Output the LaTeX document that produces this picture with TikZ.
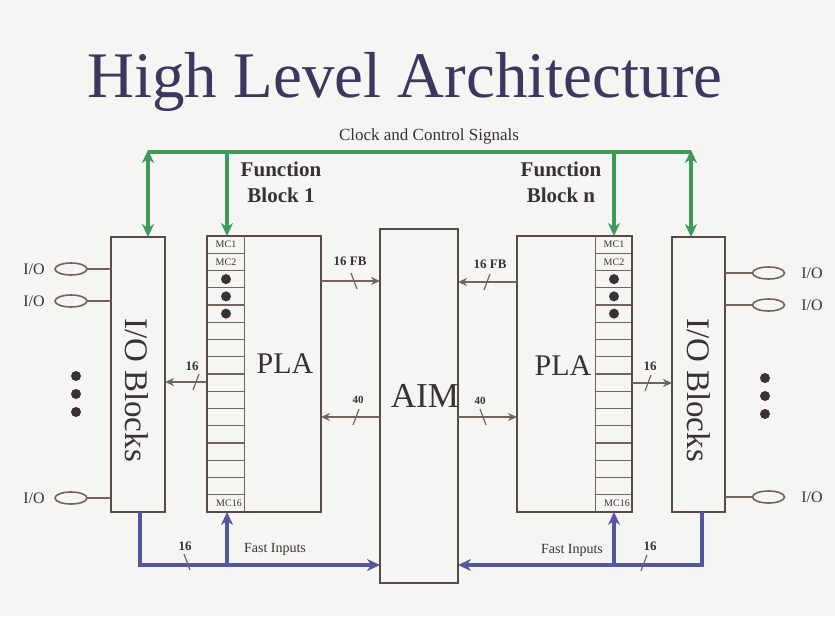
\documentclass[tikz,border=0pt]{standalone}
\usepackage{fontspec}
\setmainfont{Liberation Serif}
\usetikzlibrary{shapes,arrows.meta}
\definecolor{boxline}{HTML}{5A4A46}
\definecolor{wire}{HTML}{74625E}
\definecolor{clk}{HTML}{3E9A58}
\definecolor{fast}{HTML}{56569C}
\definecolor{titlecol}{HTML}{40355F}
\definecolor{txt}{HTML}{3A3232}
\definecolor{paper}{HTML}{F5F5F3}

\begin{document}
\begin{tikzpicture}[x=1pt,y=-1pt,>={Stealth[length=9pt,width=8pt]}]
    \tikzstyle{every node}=[inner sep=0pt,outer sep=0pt,text=txt]
    \tikzstyle{blk}=[draw=boxline,line width=2.6pt]
    \tikzstyle{mc}=[draw=wire,line width=1.1pt,minimum width=37,minimum height=17.25]
    \tikzstyle{mcl}=[font=\fontsize{10}{10}\selectfont]
    \tikzstyle{pad}=[ellipse,draw=wire,line width=1.6pt,minimum width=32,minimum height=12]
    \tikzstyle{iot}=[font=\fontsize{16}{18}\selectfont]
    \tikzstyle{big}=[font=\fontsize{33}{36}\selectfont,anchor=base]
    \tikzstyle{lbl}=[font=\bfseries\fontsize{13}{14}\selectfont,anchor=base]
    \tikzstyle{data}=[draw=wire,line width=2.2pt]
    \tikzstyle{clkbus}=[draw=clk,line width=3.8pt,>={Stealth[length=13pt,width=12pt]}]
    \tikzstyle{fastbus}=[draw=fast,line width=3.8pt,>={Stealth[length=13pt,width=12pt]}]
    \tikzset{tickl/.pic={\draw[wire,line width=1.2pt] (-3,-8) -- (3,8);},
             tickr/.pic={\draw[wire,line width=1.2pt] (3,-8) -- (-3,8);}}

    \fill[paper] (0,0) rectangle (835,616);
    \useasboundingbox (0,0) rectangle (835,616);

    % title
    \node[font=\fontsize{65}{70}\selectfont,text=titlecol,anchor=base] (title) at (405,97) {High Level Architecture};
    \node[font=\fontsize{17}{20}\selectfont,anchor=base] (clktext) at (429,140) {Clock and Control Signals};

    % macrocell columns
    \foreach \i in {1,...,16} {
      \node[mc] (fb1mc\i) at (226,{236+17.25*(\i-0.5)}) {};
      \node[mc] (fbnmc\i) at (614,{236+17.25*(\i-0.5)}) {};
    }
    \node[mcl] at (fb1mc1) {MC1};
    \node[mcl] at (fb1mc2) {MC2};
    \node[mcl] at ([xshift=3]fb1mc16.center) {MC16};
    \node[mcl] at (fbnmc1) {MC1};
    \node[mcl] at (fbnmc2) {MC2};
    \node[mcl] at ([xshift=3]fbnmc16.center) {MC16};
    \foreach \i in {3,4,5} {
      \fill[txt] (fb1mc\i) circle[radius=5pt];
      \fill[txt] (fbnmc\i) circle[radius=5pt];
    }

    % blocks
    \node[blk,minimum width=54,minimum height=275] (iol) at (138,374.5) {};
    \node[blk,minimum width=114,minimum height=276] (fb1) at (264,374) {};
    \node[blk,minimum width=78,minimum height=354] (aim) at (419,406) {};
    \node[blk,minimum width=115,minimum height=276] (fbn) at (574.5,374) {};
    \node[blk,minimum width=53,minimum height=275] (ior) at (698.5,374.5) {};

    \node[big,rotate=-90] (iolt) at (125,390) {I/O Blocks};
    \node[big,rotate=-90] (iort) at (687,390) {I/O Blocks};
    \node[big,font=\fontsize{30}{32}\selectfont] (fb1pla) at (285,373) {PLA};
    \node[big,font=\fontsize{30}{32}\selectfont] (fbnpla) at (563,375) {PLA};
    \node[big,font=\fontsize{35}{38}\selectfont] (aimt) at (425,407) {AIM};

    \node[font=\bfseries\fontsize{21}{26}\selectfont,align=center,anchor=base] (fb1t) at (281,202) {Function\\Block 1};
    \node[font=\bfseries\fontsize{21}{26}\selectfont,align=center,anchor=base] (fbnt) at (561,202) {Function\\Block n};

    % I/O pads
    \foreach \n/\y in {1/269,2/301,3/498} {
      \node[pad] (padl\n) at (71,\y) {};
      \node[iot] (padl\n t) at (34,\y) {I/O};
      \draw[wire,line width=2pt] (padl\n) -- (padl\n -| iol.west);
    }
    \foreach \n/\y in {1/273,2/305,3/497} {
      \node[pad] (padr\n) at (768.5,\y) {};
      \node[iot] (padr\n t) at (812,\y) {I/O};
      \draw[wire,line width=2pt] (padr\n) -- (padr\n -| ior.east);
    }
    \foreach \y in {376,394,412} {
      \fill[txt] (76,\y) circle[radius=5pt];
      \fill[txt] (765,\y+2) circle[radius=5pt];
    }

    % clock and control bus
    \coordinate (clkL) at (148,152);
    \coordinate (clk1) at (227,152);
    \coordinate (clkn) at (614,152);
    \coordinate (clkR) at (691,152);
    \draw[clkbus] (clkL) -- (clkR);
    \draw[clkbus,<->] ([yshift=2]clkL) -- (clkL |- iol.north);
    \draw[clkbus,->] (clk1) -- (clk1 |- fb1.north);
    \draw[clkbus,->] (clkn) -- (clkn |- fbn.north);
    \draw[clkbus,<->] ([yshift=2]clkR) -- (clkR |- ior.north);

    % data paths
    \draw[data,->] (fb1.east |- 0,281) -- (aim.west |- 0,281);
    \draw[data,->] (fbn.west |- 0,282) -- (aim.east |- 0,282);
    \draw[data,->] (aim.west |- 0,417) -- (fb1.east |- 0,417);
    \draw[data,->] (aim.east |- 0,417) -- (fbn.west |- 0,417);
    \draw[data,->] (fb1.west |- 0,382) -- (iol.east |- 0,382);
    \draw[data,->] (fbn.east |- 0,383) -- (ior.west |- 0,383);
    \pic at (354,281) {tickl};
    \pic at (487,282) {tickr};
    \pic at (356,417) {tickr};
    \pic at (483,417) {tickl};
    \pic at (196,382) {tickr};
    \pic at (648,383) {tickr};
    \node[lbl] (fb1out) at (350,265) {16 FB};
    \node[lbl] (fbnout) at (490,268) {16 FB};
    \node[lbl,font=\bfseries\fontsize{11}{12}\selectfont] (fb1in) at (358,403) {40};
    \node[lbl,font=\bfseries\fontsize{11}{12}\selectfont] (fbnin) at (480,404) {40};
    \node[lbl] (iolin) at (192,370) {16};
    \node[lbl] (iorin) at (650,370) {16};

    % fast inputs
    \coordinate (fastL) at (140,565);
    \coordinate (fast1) at (227,565);
    \coordinate (fastn) at (614,565);
    \coordinate (fastR) at (702,565);
    \draw[fastbus,->] (fastL |- iol.south) -- (fastL) -- (fastL -| aim.west);
    \draw[fastbus,->] (fast1) -- (fast1 |- fb1.south);
    \draw[fastbus,->] (fastR |- ior.south) -- (fastR) -- (fastR -| aim.east);
    \draw[fastbus,->] (fastn) -- (fastn |- fbn.south);
    \pic at (187,562) {tickl};
    \pic at (644,563) {tickr};
    \node[lbl] (fastLn) at (185,550) {16};
    \node[lbl] (fastRn) at (650,550) {16};
    \node[font=\fontsize{14}{16}\selectfont,anchor=base] (fastLt) at (275,552) {Fast Inputs};
    \node[font=\fontsize{14}{16}\selectfont,anchor=base] (fastRt) at (572,553) {Fast Inputs};
\end{tikzpicture}
\end{document}
